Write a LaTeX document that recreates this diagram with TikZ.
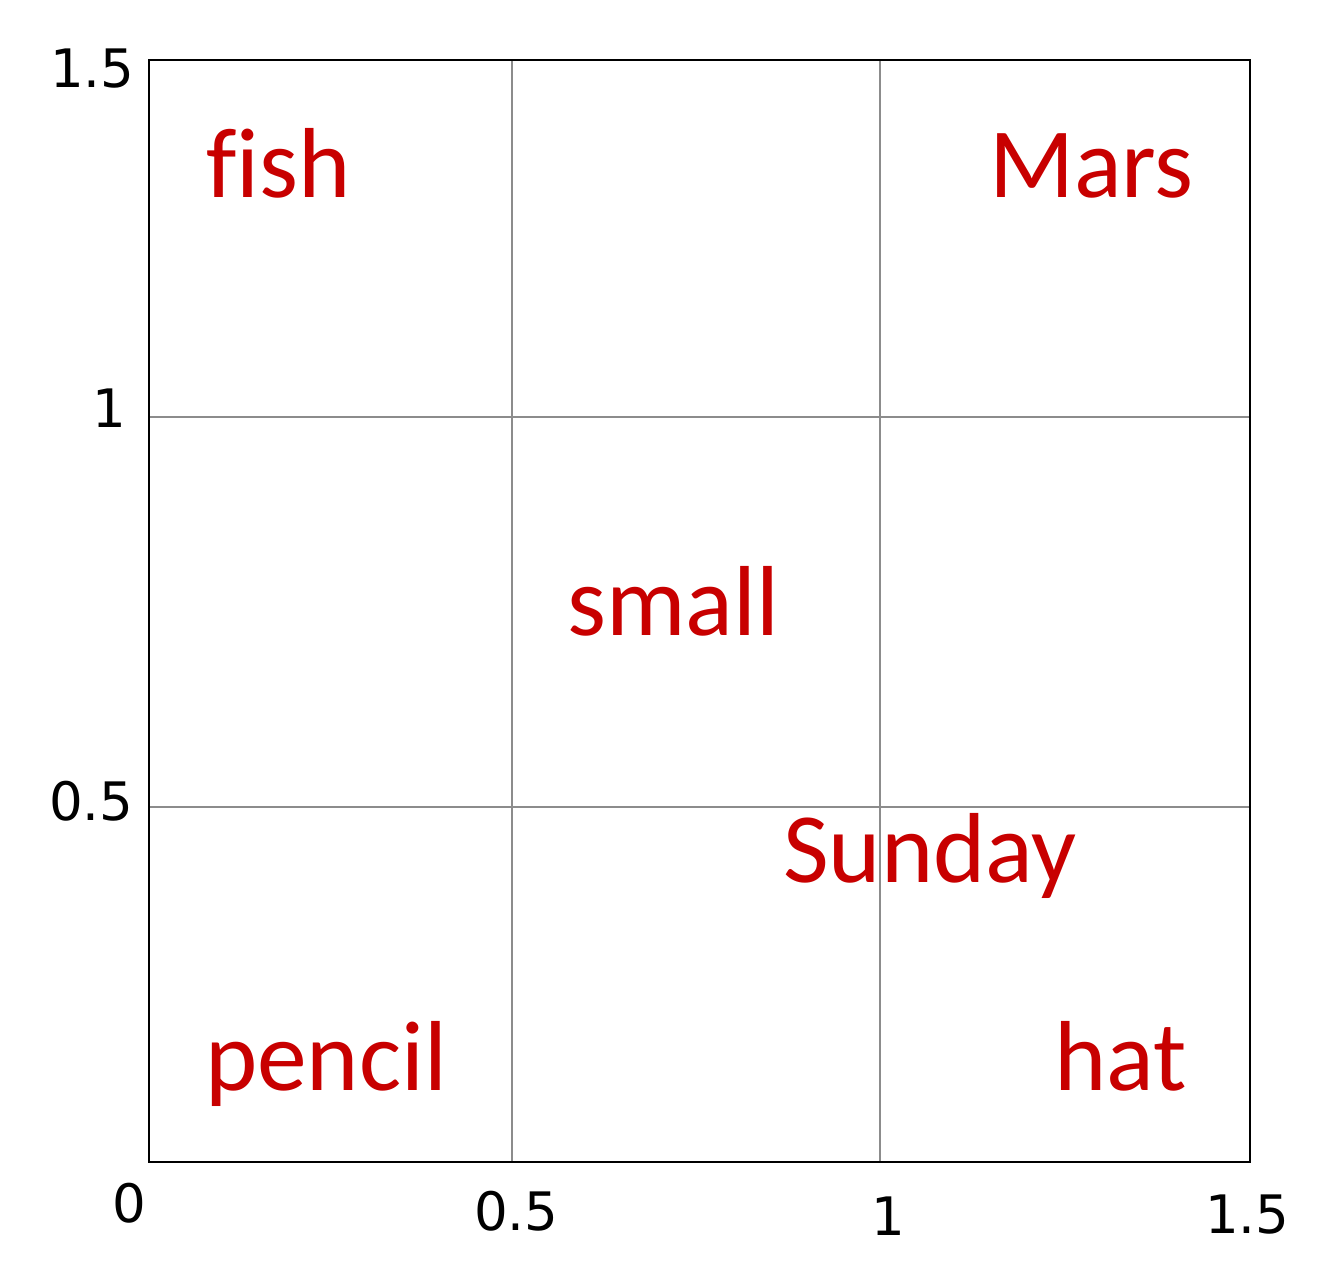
\documentclass[tikz,border=0pt]{standalone}
\usepackage{fontspec}
\setmainfont{DejaVu Sans}
\newfontfamily\carl[Ligatures=NoCommon]{Carlito}
\definecolor{lblred}{HTML}{C80000}
\definecolor{gridgray}{HTML}{8C8C8C}
\begin{document}
\begin{tikzpicture}[x=1pt,y=-1pt,
  word/.style={anchor=base west,inner sep=0pt,text=lblred,font=\carl\fontsize{99.5}{99.5}\selectfont},
  tick/.style={anchor=base west,inner sep=0pt,text=black,font=\fontsize{53}{53}\selectfont},
  gridline/.style={draw=gridgray,line width=1.8pt},
  frame/.style={draw=black,line width=1.6pt}]
\useasboundingbox[fill=white] (0,0) rectangle (1324,1263);
% grid
\coordinate (bl) at (149,1162);
\coordinate (tr) at (1250,60);
\draw[gridline] (512,60) -- (512,1162);
\draw[gridline] (880,60) -- (880,1162);
\draw[gridline] (149,417) -- (1250,417);
\draw[gridline] (149,807) -- (1250,807);
\draw[frame] (bl) rectangle (tr);
% ticks
\node[tick] (y15) at (50,87) {1.5};
\node[tick] (y1) at (92,427) {1};
\node[tick] (y05) at (49,820) {0.5};
\node[tick] (x0) at (112,1222) {0};
\node[tick] (x05) at (474,1230) {0.5};
\node[tick] (x1) at (871,1235) {1};
\node[tick] (x15) at (1205,1233) {1.5};
% words
\node[word] (fish) at (206,197) {fish};
\node[word] (mars) at (989,197) {Mars};
\node[word] (small) at (567,635) {small};
\node[word] (sunday) at (783,882) {Sunday};
\node[word] (pencil) at (205,1090) {pencil};
\node[word] (hat) at (1054,1090) {hat};
\end{tikzpicture}
\end{document}
